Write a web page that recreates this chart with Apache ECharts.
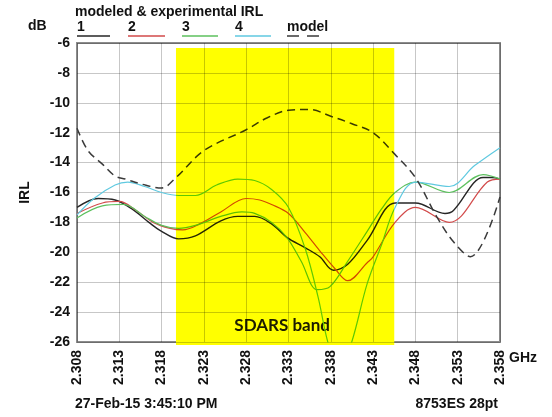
<!DOCTYPE html>
<html>
<head>
<meta charset="utf-8">
<script src="https://cdn.jsdelivr.net/npm/echarts@6/dist/echarts.min.js"></script>
<style>
  html, body { margin: 0; padding: 0; background: #fff; }
  #chart { width: 552px; height: 417px; }
</style>
</head>
<body>
<div id="chart"></div>
<script>
// Sweep start and x-axis tick labels (GHz)
const startGHz = 2.308;
const tickLabels = ['2.308', '2.313', '2.318', '2.323', '2.328', '2.333',
                    '2.338', '2.343', '2.348', '2.353', '2.358'];

// Modeled IRL (dB)
const modelFreq = [2.3080, 2.3093, 2.3110, 2.3125, 2.3137, 2.3157, 2.3180, 2.3197, 2.3230,
                   2.3280, 2.3305, 2.3330, 2.3355, 2.3380, 2.3405, 2.3430, 2.3455, 2.3480,
                   2.3505, 2.3525, 2.3545, 2.3580];
const modelIRL  = [-11.7, -13.2, -14.1, -14.9, -15.1, -15.45, -15.7, -15.0, -13.2,
                   -11.8, -11.0, -10.5, -10.45, -10.9, -11.4, -12.0, -13.4, -15.0,
                   -17.6, -19.3, -20.3, -16.3];

// Measured IRL, unit 1
const trace1Freq = [2.3080, 2.3105, 2.3125, 2.3145, 2.3165, 2.3180, 2.3200, 2.3220, 2.3250,
                    2.3270, 2.3290, 2.3310, 2.3328, 2.3350, 2.3367, 2.3383, 2.3400, 2.3423,
                    2.3456, 2.3480, 2.3515, 2.3525, 2.3560, 2.3570, 2.3580];
const trace1IRL  = [-17.0, -16.4, -16.5, -17.1, -18.0, -18.6, -19.1, -18.9, -17.9,
                    -17.6, -17.6, -18.1, -19.0, -19.7, -20.3, -21.2, -20.8, -19.2,
                    -16.7, -16.7, -17.4, -17.2, -15.0, -15.0, -15.1];

// Measured IRL, unit 2
const trace2Freq = [2.3080, 2.3110, 2.3130, 2.3150, 2.3170, 2.3190, 2.3205, 2.3225, 2.3250,
                    2.3280, 2.3296, 2.3310, 2.3330, 2.3350, 2.3367, 2.3385, 2.3400, 2.3423,
                    2.3430, 2.3456, 2.3480, 2.3520, 2.3565, 2.3580];
const trace2IRL  = [-17.4, -16.7, -16.6, -17.2, -18.0, -18.4, -18.5, -18.1, -17.3,
                    -16.4, -16.5, -16.8, -17.4, -18.7, -19.9, -21.1, -21.9, -20.7,
                    -20.3, -18.0, -17.0, -18.0, -15.3, -15.1];

// Measured IRL, unit 3
const trace3Freq = [2.3080, 2.3110, 2.3135, 2.3160, 2.3180, 2.3200, 2.3220, 2.3250, 2.3275,
                    2.3290, 2.3310, 2.3328, 2.3345, 2.3364, 2.3379, 2.3400, 2.3423, 2.3440,
                    2.3456, 2.3480, 2.3520, 2.3560, 2.3580];
const trace3IRL  = [-17.7, -16.9, -16.8, -17.6, -18.2, -18.4, -18.2, -17.6, -17.3,
                    -17.4, -18.0, -19.0, -20.6, -22.5, -22.3, -20.6, -18.6, -17.1,
                    -16.0, -15.3, -16.0, -14.8, -15.1];

// Measured IRL, unit 4
const trace4Freq = [2.3080, 2.3100, 2.3125, 2.3140, 2.3160, 2.3180, 2.3200, 2.3220, 2.3245,
                    2.3270, 2.3290, 2.3310, 2.3330, 2.3350, 2.3365, 2.3378, 2.3390, 2.3403,
                    2.3423, 2.3440, 2.3456, 2.3480, 2.3520, 2.3550, 2.3580];
const trace4IRL  = [-17.5, -16.4, -15.5, -15.3, -15.6, -16.0, -16.2, -16.2, -15.5,
                    -15.1, -15.2, -15.8, -17.0, -19.8, -23.0, -26.3, -27.5, -26.3,
                    -22.1, -19.5, -17.0, -15.3, -15.6, -14.2, -13.0];

const traceNames  = ['1', '2', '3', '4'];
const traceColors = ['#262626', '#d24a4a', '#5cc05e', '#5fc9e0'];
const modelName   = 'model';
const modelColor  = '#3a3a3a';

// SDARS band extent
const bandGHz = [2.3197, 2.3455];
const bandDb  = [-6.33, -26.2];

const FONT = '"Liberation Sans", Arial, sans-serif';
const INK = '#111';

function toMHzOffset(f) { return Math.round((f - startGHz) * 1e5) / 100; }
function pairs(fs, vs) { return fs.map((f, i) => [toMHzOffset(f), vs[i]]); }
// A trace colour as seen through the yellow band (blue channel absorbed)
function throughYellow(hex) { return hex.slice(0, 5) + '00'; }

const traceFreqs = [trace1Freq, trace2Freq, trace3Freq, trace4Freq];
const traceVals  = [trace1IRL, trace2IRL, trace3IRL, trace4IRL];
const bandLo = toMHzOffset(bandGHz[0]);
const bandHi = toMHzOffset(bandGHz[1]);

const chart = echarts.init(document.getElementById('chart'), null, { renderer: 'canvas' });

const series = traceNames.map((name, i) => ({
  name: name,
  type: 'line',
  data: pairs(traceFreqs[i], traceVals[i]),
  showSymbol: false,
  smooth: 0.35,
  z: 4,
  lineStyle: { width: i === 0 ? 1.4 : 1.2 },
  itemStyle: { color: traceColors[i] }
}));

series.push({
  name: modelName,
  type: 'line',
  data: pairs(modelFreq, modelIRL),
  showSymbol: false,
  smooth: 0.35,
  z: 5,
  lineStyle: { width: 1.5, type: [8, 5] },
  itemStyle: { color: modelColor }
});

// Band highlight, under the grid lines and traces
series.push({
  name: 'SDARS band',
  type: 'custom',
  silent: true,
  z: 1,
  data: [[bandLo, bandHi, bandDb[0], bandDb[1]]],
  encode: { x: [0, 1], y: [2, 3] },
  renderItem: function (params, api) {
    const a = api.coord([api.value(0), api.value(2)]);
    const b = api.coord([api.value(1), api.value(3)]);
    const base = api.coord([api.value(0), -26]);
    return {
      type: 'group',
      children: [
        {
          type: 'rect',
          shape: { x: a[0], y: a[1], width: b[0] - a[0], height: b[1] - a[1] },
          style: { fill: '#ffff00' }
        },
        {
          type: 'text',
          style: {
            text: 'SDARS band',
            x: (a[0] + b[0]) / 2 - 3,
            y: base[1] - 16,
            align: 'center',
            verticalAlign: 'middle',
            fill: '#1c1c00',
            font: 'bold 17px Lato, "Liberation Sans", sans-serif'
          }
        }
      ]
    };
  }
});

// Per-trace colouring inside / outside the band
const allColors = traceColors.concat([modelColor]);
const visualMaps = allColors.map((c, i) => ({
  type: 'piecewise',
  show: false,
  seriesIndex: i,
  dimension: 0,
  pieces: [
    { lt: bandLo, color: c },
    { gte: bandLo, lte: bandHi, color: throughYellow(c) },
    { gt: bandHi, color: c }
  ]
}));

// Legend: label with a coloured underline
const legendNames  = traceNames.concat([modelName]);
const legendX      = [77, 128, 182, 235, 287];
const legendLen    = [33, 37, 36, 36, 36];
const graphics = [];
legendNames.forEach((n, i) => {
  graphics.push({
    type: 'text', x: legendX[i], y: 27,
    style: { text: n, font: 'bold 14px ' + FONT, fill: INK, verticalAlign: 'middle' }
  });
  graphics.push({
    type: 'line',
    shape: { x1: legendX[i], y1: 36, x2: legendX[i] + legendLen[i], y2: 36 },
    style: n === modelName
      ? { stroke: allColors[i], lineWidth: 1.5, lineDash: [12, 8] }
      : { stroke: allColors[i], lineWidth: 1.5 }
  });
});
graphics.push(
  { type: 'text', x: 75, y: 12,
    style: { text: 'modeled & experimental IRL', font: 'bold 14px ' + FONT, fill: INK, verticalAlign: 'middle' } },
  { type: 'text', x: 28, y: 26,
    style: { text: 'dB', font: 'bold 14px ' + FONT, fill: INK, verticalAlign: 'middle' } },
  { type: 'text', x: 509, y: 358,
    style: { text: 'GHz', font: 'bold 14px ' + FONT, fill: INK, verticalAlign: 'middle' } },
  { type: 'text', x: 75, y: 404,
    style: { text: '27-Feb-15 3:45:10 PM', font: 'bold 14px ' + FONT, fill: INK, verticalAlign: 'middle' } },
  { type: 'text', x: 498, y: 404,
    style: { text: '8753ES 28pt', font: 'bold 14px ' + FONT, fill: INK, verticalAlign: 'middle', align: 'right' } }
);

// Translucent grid lines so they tint rather than cover the band
const gridLine = { show: true, lineStyle: { color: 'rgba(0,0,0,0.22)', width: 1 } };

chart.setOption({
  backgroundColor: '#ffffff',
  animation: false,
  grid: {
    left: 77, right: 52, top: 43, bottom: 75,
    show: true, borderColor: '#8c8c8c', borderWidth: 2, backgroundColor: 'transparent'
  },
  visualMap: visualMaps,
  xAxis: {
    type: 'value',
    min: 0, max: 50, interval: 5,
    z: 2,
    axisLine: { show: false },
    axisTick: { show: false },
    splitLine: gridLine,
    axisLabel: {
      rotate: 90, margin: 8, color: INK,
      fontFamily: FONT, fontWeight: 'bold', fontSize: 14,
      formatter: v => tickLabels[Math.round(v / 5)]
    }
  },
  yAxis: {
    type: 'value',
    min: -26, max: -6, interval: 2,
    z: 2,
    name: 'IRL', nameLocation: 'middle', nameGap: 45,
    nameTextStyle: { color: INK, fontFamily: FONT, fontWeight: 'bold', fontSize: 14 },
    axisLine: { show: false },
    axisTick: { show: false },
    splitLine: gridLine,
    axisLabel: { margin: 7, color: INK, fontFamily: FONT, fontWeight: 'bold', fontSize: 14 }
  },
  graphic: graphics,
  series: series
});
</script>
</body>
</html>
